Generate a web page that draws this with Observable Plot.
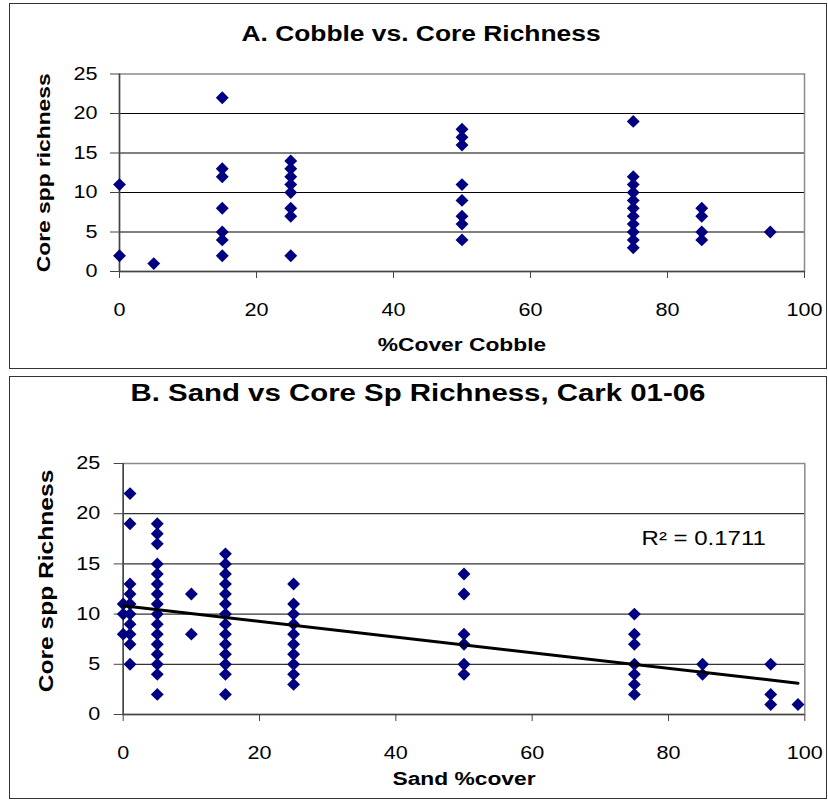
<!DOCTYPE html>
<html>
<head>
<meta charset="utf-8">
<script src="https://cdn.jsdelivr.net/npm/d3@7"></script>
<script src="https://cdn.jsdelivr.net/npm/@observablehq/plot@0.6"></script>
<style>
  body { margin: 0; background: white; }
  #wrap { position: relative; width: 828px; height: 801px; overflow: hidden; }
  .box { position: absolute; border: 1.5px solid #333; box-sizing: border-box; }
  .layer { position: absolute; left: 0; top: 0; }
</style>
</head>
<body>
<div id="wrap">
  <div class="box" style="left:9px;top:3px;width:818px;height:366px"></div>
  <div class="box" style="left:9px;top:376px;width:818px;height:423px"></div>
  <div class="layer" id="pa"></div>
  <div class="layer" id="pb"></div>
</div>
<script>
// ---- Panel A data: % cover cobble vs core species richness ----
const cobbleCover = [0,0, 5, 15,15,15,15,15,15,15, 25,25,25,25,25,25,25,25,
  50,50,50,50,50,50,50,50, 75,75,75,75,75,75,75,75,75,75,75, 85,85,85,85, 95];
const cobbleRichness = [11,2, 1, 22,13,12,8,5,4,2, 14,13,12,11,10,8,7,2,
  18,17,16,11,9,7,6,4, 19,12,11,10,9,8,7,6,5,4,3, 8,7,5,4, 5];

// ---- Panel B data: sand % cover vs core species richness ----
const sandCover = [0,0,0,
  1,1,1,1,1,1,1,1,1,1,
  5,5,5,5,5,5,5,5,5,5,5,5,5,5,5,5,
  10,10,
  15,15,15,15,15,15,15,15,15,15,15,15,15,15,
  25,25,25,25,25,25,25,25,25,25,
  50,50,50,50,50,50,
  75,75,75,75,75,75,75,
  85,85,
  95,95,95,
  99];
const sandRichness = [11,10,8,
  22,19,13,12,11,10,9,8,7,5,
  19,18,17,15,14,13,12,11,10,9,8,7,6,5,4,2,
  12,8,
  16,15,14,13,12,11,10,9,8,7,6,5,4,2,
  13,11,10,9,8,7,6,5,4,3,
  14,12,8,7,5,4,
  10,8,7,5,4,3,2,
  5,4,
  5,2,1,
  1];

const xTicks = [0, 20, 40, 60, 80, 100];
const yTicks = [0, 5, 10, 15, 20, 25];
const gridTicks = [5, 10, 15, 20];

const titleA = "A. Cobble vs. Core Richness";
const xLabelA = "%Cover Cobble";
const yLabelA = "Core spp richness";
const titleB = "B. Sand vs Core Sp Richness, Cark 01-06";
const xLabelB = "Sand %cover";
const yLabelB = "Core spp Richness";
const r2Label = "R² = 0.1711";

const dataA = cobbleCover.map((x, i) => ({x, y: cobbleRichness[i]}));
const dataB = sandCover.map((x, i) => ({x, y: sandRichness[i]}));

const NAVY = "#000080";
const FONT = "Liberation Sans, Arial, sans-serif";
const STRETCH = 1.2; // the reference text is horizontally stretched Arial

function panel(o) {
  const svg = Plot.plot({
    width: 828,
    height: o.height,
    marginLeft: o.ml, marginRight: o.mr, marginTop: o.mt, marginBottom: o.mb,
    style: {background: "transparent", overflow: "visible", fontFamily: FONT, fontSize: "18px", color: "black"},
    x: {domain: [0, 100], label: null},
    y: {domain: [0, 25], label: null},
    marks: [
      Plot.gridY(gridTicks, {stroke: "black", strokeOpacity: 1, strokeWidth: 1}),
      Plot.frame({stroke: "#8a8a8a", strokeWidth: 1.5}),
      Plot.ruleY([0], {stroke: "#444", strokeWidth: 1.5}),
      Plot.ruleX([0], {stroke: "#444", strokeWidth: 1.5}),
      Plot.axisX({ticks: xTicks, tickSize: 7, tickPadding: o.xpad, stroke: "#444", tickFormat: d => d, fill: "black"}),
      Plot.axisY({ticks: yTicks, tickSize: 9, tickPadding: o.ypad, stroke: "#444", tickFormat: d => d, fill: "black"}),
      Plot.dot(o.data, {x: "x", y: "y", symbol: "diamond2", r: 5.8, fill: NAVY, stroke: "none"}),
      Plot.text([o.title], {frameAnchor: "top", dx: o.tdx, dy: o.tdy, fontSize: o.tfs, fontWeight: "bold", textAnchor: "middle", lineAnchor: "middle", fill: "black"}),
      Plot.text([o.xlab], {frameAnchor: "bottom", dy: o.xldy, fontSize: 19, fontWeight: "bold", textAnchor: "middle", lineAnchor: "middle", fill: "black"}),
      Plot.text([o.ylab], {frameAnchor: "left", dx: o.yldx, dy: o.yldy, rotate: -90, fontSize: o.yfs, fontWeight: "bold", textAnchor: "middle", lineAnchor: "middle", fill: "black"}),
      ...o.after
    ]
  });
  d3.select(svg).selectAll("text").each(function () {
    const t = this.getAttribute("transform") || "";
    this.setAttribute("transform", (t + ` scale(${STRETCH},1)`).trim());
  });
  return svg;
}

document.getElementById("pa").append(panel({
  height: 372, ml: 119, mr: 24, mt: 73.5, mb: 101,
  xpad: 25, ypad: 13,
  data: dataA,
  title: titleA, tfs: 22, tdx: -41, tdy: -40,
  xlab: xLabelA, xldy: 73,
  ylab: yLabelA, yfs: 19, yldx: -76, yldy: 0,
  after: []
}));

document.getElementById("pb").append(panel({
  height: 801, ml: 122.7, mr: 23.7, mt: 463, mb: 87,
  xpad: 25, ypad: 14,
  data: dataB,
  title: titleB, tfs: 24.5, tdx: -46, tdy: -70,
  xlab: xLabelB, xldy: 64,
  ylab: yLabelB, yfs: 20.5, yldx: -77, yldy: -8,
  after: [
    Plot.linearRegressionY(dataB, {x: "x", y: "y", stroke: "black", strokeWidth: 3, ci: 0}),
    Plot.text([r2Label], {frameAnchor: "top-right", dx: -39, dy: 75, textAnchor: "end", lineAnchor: "middle", fontSize: 20, fill: "black"})
  ]
}));
</script>
</body>
</html>
